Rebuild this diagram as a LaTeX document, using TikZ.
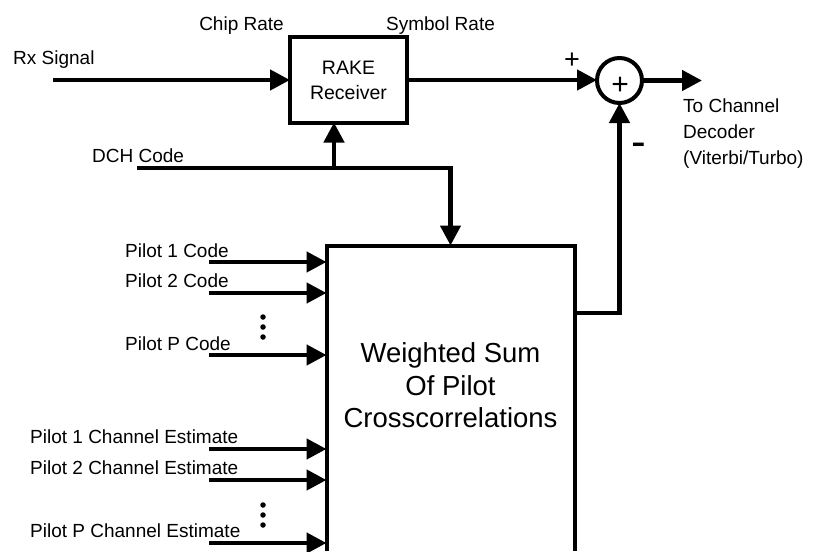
\documentclass[tikz,border=0pt]{standalone}
\usepackage{fontspec}
\setmainfont{Liberation Sans}
\usetikzlibrary{arrows.meta}
\begin{document}
\begin{tikzpicture}[x=1pt,y=-1pt,
  wire/.style={line width=4.5pt},
  arr/.style={wire,-{Triangle[length=20pt,width=20pt]}},
  blk/.style={draw,line width=4pt,inner sep=0pt,outer sep=0pt},
  lbl/.style={inner sep=0pt,font=\fontsize{19}{26}\selectfont},
  sign/.style={inner sep=0pt,font=\fontsize{27}{27}\selectfont},
  big/.style={inner sep=0pt,font=\fontsize{27.5}{32.5}\selectfont,align=center},
  dot/.style={circle,fill,inner sep=0pt,minimum size=5.5pt}
]
\useasboundingbox[fill=white] (0,0) rectangle (813,551);

% blocks
\node[blk,minimum width=117pt,minimum height=85pt,align=center,
      font=\fontsize{19.5}{25}\selectfont] (rake) at (348.5,80) {RAKE\\Receiver};
\node[circle,draw,line width=4pt,minimum size=45pt,inner sep=0pt,outer sep=0pt] (sum) at (619.5,80.5) {};
\node[sign,font=\fontsize{30}{30}\selectfont] (sumplus) at (620,86) {+};
\node[inner sep=0pt,outer sep=0pt,minimum width=248pt,minimum height=305.5pt] (ws) at (450.5,398.25) {};
\draw[line width=4pt] (ws.south west) -- (ws.north west) -- (ws.north east) -- (ws.south east);
\node[big] (wstext) at (450.5,385.5) {Weighted Sum\\Of Pilot\\Crosscorrelations};

% labels
\node[lbl,anchor=base west] (rxl) at (13,64) {Rx Signal};
\node[lbl,anchor=base] (chip) at (241.5,31) {Chip Rate};
\node[lbl,anchor=base] (symb) at (440.5,31) {Symbol Rate};
\node[lbl,anchor=base west] (dchl) at (92,162) {DCH Code};
\node[sign] (plusl) at (572,61) {+};
\node[sign,font=\fontsize{44}{44}\selectfont] (minusl) at (638.5,150) {-};
\node[lbl,anchor=west,align=left] (outl) at (683,134) {To Channel\\Decoder\\(Viterbi/Turbo)};
\node[lbl,anchor=base west] (l1) at (125,257) {Pilot 1 Code};
\node[lbl,anchor=base west] (l2) at (125,287) {Pilot 2 Code};
\node[lbl,anchor=base west] (l3) at (125,350) {Pilot P Code};
\node[lbl,anchor=base west] (l4) at (30,443) {Pilot 1 Channel Estimate};
\node[lbl,anchor=base west] (l5) at (30,474) {Pilot 2 Channel Estimate};
\node[lbl,anchor=base west] (l6) at (30,537) {Pilot P Channel Estimate};

% dots
\foreach \y/\n in {317/d1,327/d2,337/d3,505/d4,515/d5,525/d6}
  \node[dot] (\n) at (263,\y) {};

% connectors
\coordinate (rxs) at (53,80);
\draw[arr] (rxs) -- (rake.west);
\draw[arr] (rake.east) -- (rake.east -| sum.west);
\coordinate (outend) at (702,80.5);
\draw[arr] (sum.east) -- (outend);

\coordinate (dchs) at (137,168);
\coordinate (dchj) at (334,168);
\draw[arr] (dchs) -- (dchs -| ws.north) -- (ws.north);
\draw[arr] (dchj) -- (dchj |- rake.south);

\coordinate (fb) at (ws.east |- 0,313);
\draw[arr] (fb) -- (fb -| sum.south) -- (sum.south);

\foreach \y/\n in {262/pa,293/pb,355/pc,449/pd,480/pe,543/pf}{
  \coordinate (\n) at (209,\y);
  \draw[arr] (\n) -- (\n -| ws.west);
}
\end{tikzpicture}
\end{document}
